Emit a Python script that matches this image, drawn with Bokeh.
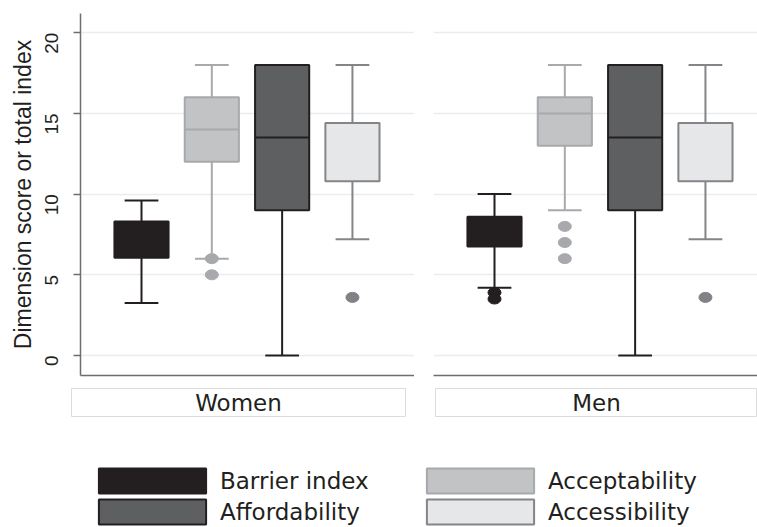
import numpy as np
from bokeh.plotting import figure
from bokeh.layouts import row, column
from bokeh.models import Range1d, FixedTicker, ColumnDataSource, Legend, LegendItem
from bokeh.core.properties import value
from bokeh.embed import file_html
from bokeh.resources import INLINE

# ---------------- data ----------------
categories = ["Barrier index", "Acceptability", "Affordability", "Accessibility"]
panels = ["Women", "Men"]
y_ticks = [0, 5, 10, 15, 20]

women_q1 = [6.05, 12.0, 9.0, 10.8]
women_median = [7.2, 14.0, 13.5, 14.4]
women_q3 = [8.3, 16.0, 18.0, 14.4]
women_lower = [3.25, 6.0, 0.0, 7.2]
women_upper = [9.6, 18.0, 18.0, 18.0]
women_out_cat = ["Acceptability", "Acceptability", "Accessibility"]
women_out_val = [6.0, 5.0, 3.6]

men_q1 = [6.75, 13.0, 9.0, 10.8]
men_median = [7.6, 15.0, 13.5, 14.4]
men_q3 = [8.6, 16.0, 18.0, 14.4]
men_lower = [4.2, 9.0, 0.0, 7.2]
men_upper = [10.0, 18.0, 18.0, 18.0]
men_out_cat = ["Barrier index", "Barrier index", "Acceptability", "Acceptability", "Acceptability", "Accessibility"]
men_out_val = [3.9, 3.5, 8.0, 7.0, 6.0, 3.6]

# ---------------- style ----------------
fill_colors = ["#231f20", "#c2c3c5", "#5e5f61", "#e6e7e8"]
line_colors = ["#231f20", "#a7a9ac", "#231f20", "#848588"]
outlier_colors = {"Barrier index": "#231f20", "Acceptability": "#a7a9ac",
                  "Affordability": "#5e5f61", "Accessibility": "#808285"}
legend_order = ["Barrier index", "Affordability", "Acceptability", "Accessibility"]

TXT = "#231f20"
AX = "#6d6e71"
GRID = "#ececec"
HFONT = "DejaVu Sans"
VFONT = "Liberation Sans"

FRAME_H = 362
LEFT_FW = 334
RIGHT_FW = 324
UNIT = LEFT_FW / 4.75        # px per category step
X0 = 1 - 61 / UNIT
Y_PX = 16.14                 # px per score unit
Y0 = -20 / Y_PX
Y1 = Y0 + FRAME_H / Y_PX
BOX_W = 0.77
CAP_W = 0.48

xpos = {c: i + 1 for i, c in enumerate(categories)}


def panel(fig, q1, med, q3, lo, hi, out_cat, out_val):
    x = [xpos[c] for c in categories]
    src = ColumnDataSource(dict(x=x, q1=q1, med=med, q3=q3, lo=lo, hi=hi,
                                fill=fill_colors, line=line_colors,
                                xl=[v - BOX_W / 2 for v in x], xr=[v + BOX_W / 2 for v in x],
                                cl=[v - CAP_W / 2 for v in x], cr=[v + CAP_W / 2 for v in x]))
    fig.segment(x0="x", y0="q3", x1="x", y1="hi", source=src, line_color="line", line_width=2)
    fig.segment(x0="x", y0="q1", x1="x", y1="lo", source=src, line_color="line", line_width=2)
    fig.segment(x0="cl", y0="hi", x1="cr", y1="hi", source=src, line_color="line", line_width=2)
    fig.segment(x0="cl", y0="lo", x1="cr", y1="lo", source=src, line_color="line", line_width=2)
    fig.vbar(x="x", width=BOX_W, bottom="q1", top="q3", source=src,
             fill_color="fill", line_color="line", line_width=2)
    fig.segment(x0="xl", y0="med", x1="xr", y1="med", source=src, line_color="line", line_width=2)
    osrc = ColumnDataSource(dict(x=[xpos[c] for c in out_cat], y=out_val,
                                 c=[outlier_colors[c] for c in out_cat]))
    fig.ellipse(x="x", y="y", width=13, height=10, width_units="screen", height_units="screen",
                source=osrc, fill_color="c", line_color="c")


def base_fig(fw, left_border, with_yaxis):
    f = figure(frame_width=fw, frame_height=FRAME_H,
               x_range=Range1d(X0, X0 + fw / UNIT), y_range=Range1d(Y0, Y1),
               output_backend="svg", toolbar_location=None,
               min_border_left=left_border, min_border_right=0,
               min_border_top=13, min_border_bottom=5,
               y_axis_location="left" if with_yaxis else None)
    f.outline_line_color = None
    f.background_fill_color = "white"
    f.border_fill_color = "white"
    f.xgrid.visible = False
    f.ygrid.ticker = FixedTicker(ticks=y_ticks)
    f.ygrid.grid_line_color = GRID
    f.ygrid.grid_line_width = 1.5
    f.xaxis.ticker = FixedTicker(ticks=[])
    f.xaxis.major_tick_line_color = None
    f.xaxis.minor_tick_line_color = None
    f.xaxis.major_label_standoff = 0
    f.xaxis.axis_line_color = AX
    f.xaxis.axis_line_width = 1.5
    if with_yaxis:
        ax = f.yaxis[0]
        ax.ticker = FixedTicker(ticks=y_ticks)
        ax.axis_line_color = AX
        ax.axis_line_width = 1.5
        ax.major_tick_line_color = AX
        ax.major_tick_line_width = 1.5
        ax.major_tick_out = 7
        ax.major_tick_in = 0
        ax.minor_tick_line_color = None
        ax.major_label_orientation = np.pi / 2
        ax.major_label_text_font = VFONT
        ax.major_label_text_font_size = "19px"
        ax.major_label_text_color = TXT
        ax.major_label_standoff = 22
        ax.axis_label = "Dimension score or total index"
        ax.axis_label_text_font = VFONT
        ax.axis_label_text_font_size = "23px"
        ax.axis_label_text_font_style = "normal"
        ax.axis_label_text_color = TXT
        ax.axis_label_standoff = 0
    return f


fL = base_fig(LEFT_FW, 80, True)
fR = base_fig(RIGHT_FW, 19, False)
panel(fL, women_q1, women_median, women_q3, women_lower, women_upper, women_out_cat, women_out_val)
panel(fR, men_q1, men_median, men_q3, men_lower, men_upper, men_out_cat, men_out_val)


def strip(name, fw, left, right):
    s = figure(frame_width=fw, frame_height=28, x_range=Range1d(0, 1), y_range=Range1d(0, 1),
               output_backend="svg", toolbar_location=None,
               min_border_left=left, min_border_right=right, min_border_top=8, min_border_bottom=4,
               x_axis_location=None, y_axis_location=None)
    s.grid.visible = False
    s.outline_line_color = "#dcdcdc"
    s.outline_line_width = 1
    s.text(x=[0.5], y=[0.5], text=[name], text_align="center", text_baseline="middle",
           text_font=value(HFONT), text_font_size="23px", text_color=TXT)
    return s


sL = strip(panels[0], 334, 71, 9)
sR = strip(panels[1], 322, 21, 0)

# ---------------- legend ----------------
lg = figure(frame_width=757, frame_height=107, x_range=Range1d(0, 1), y_range=Range1d(0, 1),
            output_backend="svg", toolbar_location=None,
            min_border_left=0, min_border_right=0, min_border_top=0, min_border_bottom=0,
            x_axis_location=None, y_axis_location=None)
lg.grid.visible = False
lg.outline_line_color = None
items = {}
nan = float("nan")
for c in legend_order:
    i = categories.index(c)
    # legend-only renderer: NaN geometry, so nothing is drawn in the frame
    r = lg.quad(left=[nan], right=[nan], bottom=[nan], top=[nan], fill_color=fill_colors[i],
                line_color=line_colors[i], line_width=2)
    items[c] = LegendItem(label=c, renderers=[r])


def make_legend(labels, x):
    L = Legend(items=[items[c] for c in labels], location=(x, 0), orientation="vertical",
               glyph_width=134, glyph_height=31, label_standoff=1, spacing=0, padding=0, margin=0,
               label_text_font=HFONT, label_text_font_size="23px", label_text_color=TXT,
               border_line_color=None, background_fill_alpha=0)
    lg.add_layout(L, "center")


make_legend(legend_order[:2], 85)
make_legend(legend_order[2:], 413)

layout = column(row(fL, fR), row(sL, sR), lg)
open("out.html", "w").write(file_html(layout, INLINE))
